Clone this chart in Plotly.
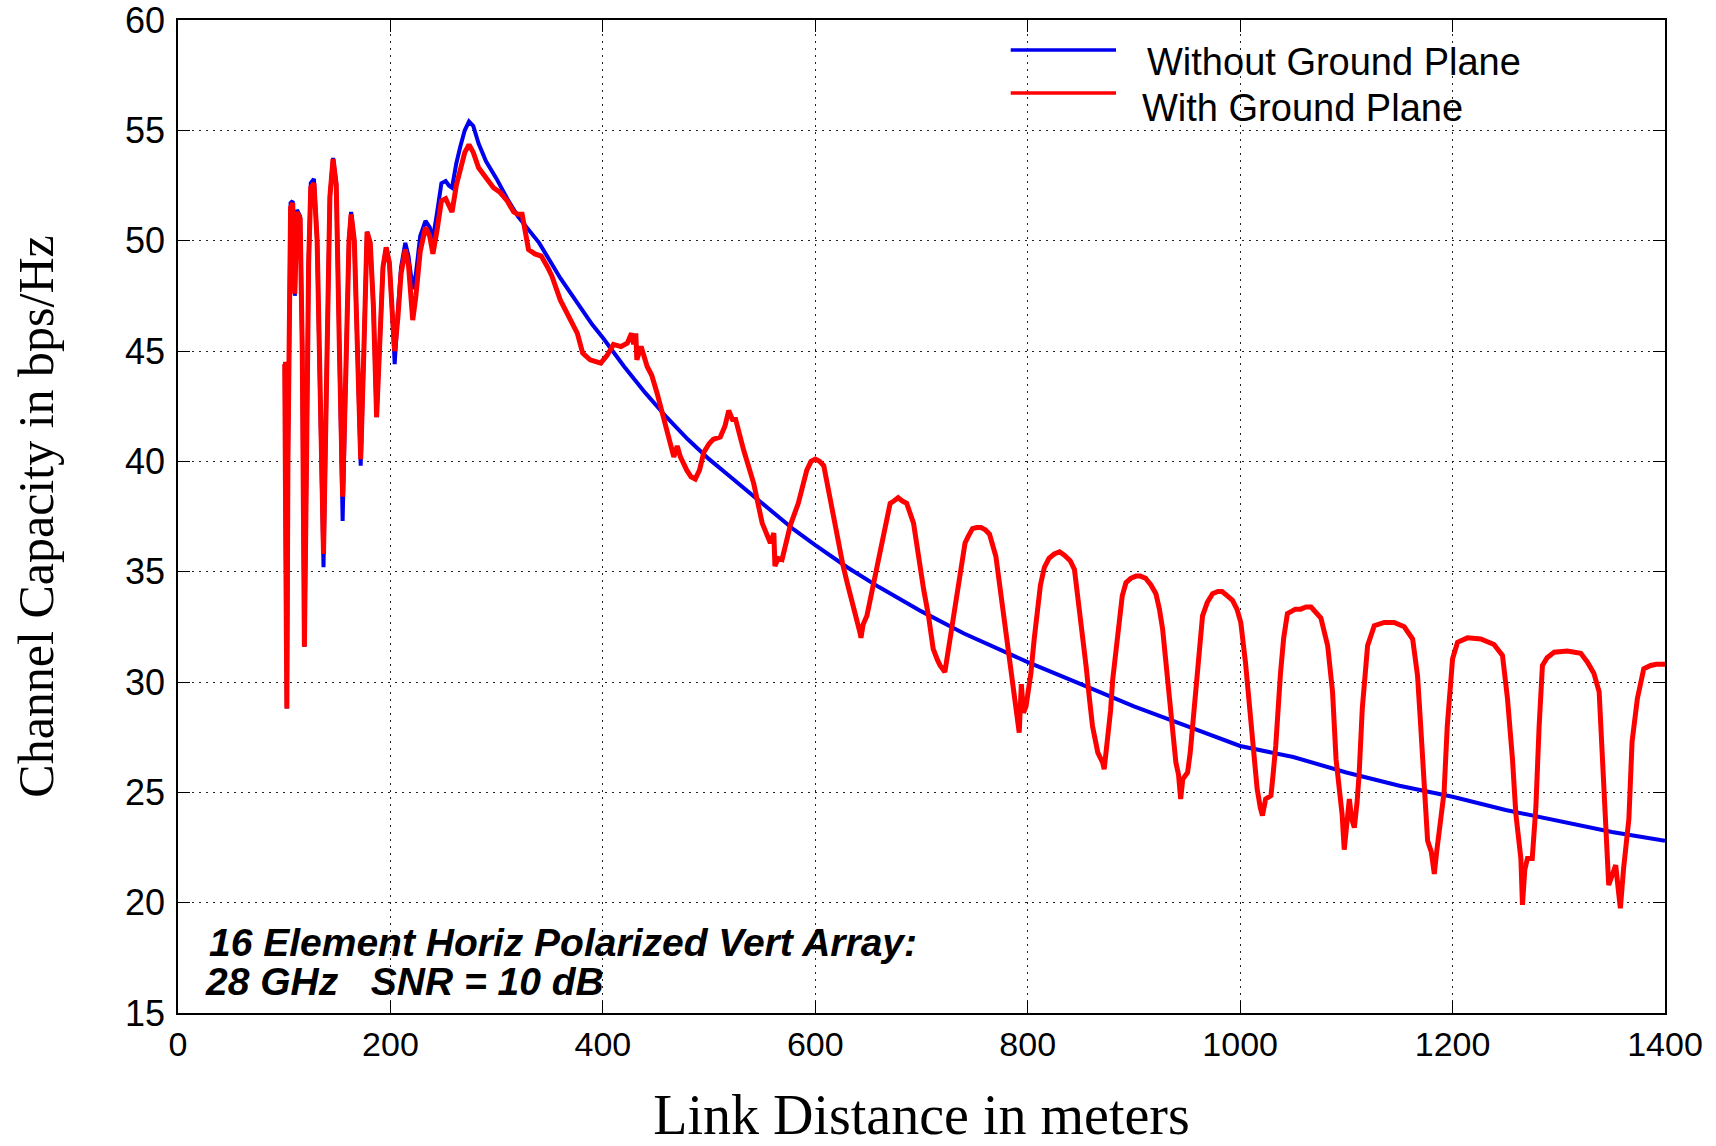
import plotly.graph_objects as go

# ---------------- data ----------------
blue_x = [99, 100.5, 101.5, 102.5, 103.5, 104.5, 106, 108, 110, 112, 115, 117, 119, 121, 123, 125,
          128, 131, 134, 137, 140, 143, 146, 149, 152, 155, 158, 161, 163, 166, 169, 172, 175,
          178, 181, 184, 187, 190, 193, 196, 199, 202, 204, 207, 210, 214, 217, 221, 224, 228,
          233, 237, 240, 244, 248, 252, 255, 258, 262, 266, 270, 274, 278, 283, 290, 300, 310,
          320, 330, 340, 350, 360, 370, 380, 390, 400, 420, 440, 460, 480, 500, 520, 540, 560,
          580, 600, 630, 660, 700, 740, 780, 800, 850, 900, 950, 1000, 1050, 1100, 1150, 1200,
          1250, 1300, 1350, 1400]
blue_y = [44.4, 44.4, 36.0, 28.8, 40.0, 44.4, 51.7, 51.8, 47.5, 51.4, 51.1, 45.0, 31.6, 40.0, 49.0, 52.6,
          52.8, 50.0, 42.0, 35.2, 44.0, 52.0, 53.75, 52.6, 45.0, 37.3, 44.0, 50.0, 51.3, 50.0, 45.0, 39.8, 45.0,
          50.4, 49.9, 47.0, 42.0, 45.0, 48.8, 49.7, 49.0, 46.5, 44.4, 46.8, 48.8, 49.9, 49.3, 47.8, 48.5, 50.2,
          50.9, 50.6, 50.1, 51.3, 52.6, 52.7, 52.5, 52.4, 53.5, 54.3, 55.0, 55.4, 55.2, 54.4, 53.6, 52.8, 51.9,
          51.1, 50.5, 49.9, 49.1, 48.3, 47.6, 46.9, 46.2, 45.6, 44.3, 43.1, 42.0, 41.0, 40.1, 39.3, 38.5, 37.7,
          36.9, 36.2, 35.2, 34.3, 33.2, 32.2, 31.3, 30.9, 29.9, 28.9, 28.0, 27.1, 26.6, 25.9, 25.3, 24.8,
          24.2, 23.7, 23.2, 22.8]

red_x = [99, 100.5, 101.5, 102.5, 103.5, 104.5, 106, 108, 110, 112, 115, 117, 119, 121, 123, 125,
         128, 131, 134, 137, 140, 143, 146, 149, 152, 155, 158, 161, 163, 166, 169, 172, 175,
         178, 181, 184, 187, 190, 193, 196, 199, 202, 204, 207, 210, 214, 217, 221, 224, 228,
         233, 237, 240, 244, 248, 252, 255, 258, 262, 266, 270, 274, 278, 283, 290, 297, 303,
         310, 316, 320, 324, 327, 330, 336, 342, 348, 352, 360, 368, 376, 381, 388, 398, 404,
         410, 417, 423, 427, 429, 431, 432, 436, 441.7, 446, 451, 456, 460.5, 466.8, 470, 473,
         479, 483, 487, 491, 495, 500, 504, 510.6, 515, 518.5, 522, 525, 532.6, 537, 542, 546,
         550, 557.7, 561, 562, 565, 568.7, 572, 576.5, 584, 588, 592, 596, 600, 604, 608, 614,
         618, 622, 626, 630, 634, 637.6, 642, 643, 645, 648.6, 652, 656.4, 660, 664, 670.5, 674,
         678, 682, 686, 692.5, 695, 698.7, 702, 706.6, 711, 715, 717.5, 722, 725, 728.5, 732,
         736.4, 741, 744, 748, 752, 756, 760, 764, 770, 776.5, 780, 783, 787.5, 790, 792, 794,
         796, 798.4, 803, 806, 809.4, 812, 815.7, 820, 825, 830, 834.5, 840, 844, 848.6, 852,
         855, 858, 861, 866, 870.5, 872, 875, 878, 880, 886, 889, 892.5, 897, 902, 906, 911,
         916, 920.7, 924, 927, 930, 933, 936, 939.5, 942, 944, 946, 950.5, 953, 955, 960, 964.6,
         969, 974, 979, 983, 988, 992.8, 997, 1000.6, 1005, 1008, 1011.6, 1016, 1019, 1021, 1024,
         1029, 1031, 1033.5, 1038, 1041, 1044.5, 1052, 1057, 1062, 1066.8, 1072, 1076, 1082.4,
         1087, 1090.3, 1093.4, 1096, 1098, 1100, 1102.8, 1105, 1107.5, 1110, 1112, 1115, 1120,
         1126.3, 1135.7, 1145, 1154.5, 1162.4, 1167, 1170, 1173.4, 1176.5, 1180, 1182.8, 1185,
         1187.5, 1192, 1195, 1200, 1204.7, 1214, 1226.6, 1239, 1247, 1251.7, 1256.4, 1259.6,
         1264.3, 1265.8, 1268, 1270.5, 1275, 1278.4, 1281.5, 1284.6, 1289, 1295.6, 1308, 1320.7,
         1327, 1333, 1338, 1341, 1344, 1347, 1350, 1353.6, 1356, 1358, 1361, 1366, 1369, 1374,
         1380, 1386.5, 1392, 1400]
red_y = [44.4, 44.4, 36.0, 28.8, 40.0, 44.4, 51.5, 51.7, 47.6, 51.3, 51.0, 45.0, 31.6, 40.0, 49.0, 52.4,
         52.6, 50.0, 42.0, 35.8, 44.0, 52.0, 53.7, 52.5, 45.0, 38.4, 44.0, 50.0, 51.2, 50.0, 45.0, 40.1, 45.0,
         50.4, 49.9, 47.0, 42.0, 45.0, 48.8, 49.7, 49.0, 46.5, 45.0, 46.5, 48.5, 49.6, 48.9, 46.4, 47.5, 49.5,
         50.6, 50.2, 49.4, 50.5, 51.8, 51.9, 51.6, 51.3, 52.5, 53.3, 54.0, 54.35, 54.0, 53.3, 52.8, 52.4, 52.2,
         51.8, 51.3, 51.2, 51.2, 50.5, 49.6, 49.4, 49.3, 48.8, 48.4, 47.3, 46.55, 45.8, 44.9, 44.6, 44.45, 44.8,
         45.3, 45.2, 45.35, 45.8, 45.3, 45.8, 44.6, 45.2, 44.3, 43.9, 43.1, 42.2, 41.4, 40.2, 40.7, 40.2,
         39.6, 39.3, 39.2, 39.6, 40.4, 40.8, 41.0, 41.1, 41.6, 42.3, 41.9, 41.9, 40.5, 39.8, 39.0, 38.1,
         37.2, 36.3, 36.75, 35.25, 35.6, 35.55, 36.3, 37.1, 38.1, 38.9, 39.6, 40.0, 40.1, 40.0, 39.8, 38.3,
         37.2, 36.3, 35.3, 34.5, 33.8, 33.15, 32.25, 32.0, 32.6, 33.0, 33.8, 34.65, 35.6, 36.5, 38.1, 38.2,
         38.35, 38.2, 38.1, 37.2, 36.3, 35.25, 34.2, 33.0, 31.5, 31.0, 30.75, 30.45, 31.4, 32.25, 33.4,
         34.65, 36.3, 36.6, 36.95, 37.0, 37.0, 36.9, 36.7, 35.7, 33.4, 32.2, 31.0, 29.4, 28.8, 27.7, 29.9,
         28.6, 28.9, 30.4, 31.9, 33.4, 34.4, 35.2, 35.6, 35.8, 35.9, 35.75, 35.5, 35.1, 33.4, 32.0,
         30.7, 29.3, 28.0, 26.8, 26.35, 26.05, 27.25, 28.7, 30.1, 33.0, 33.9, 34.5, 34.7, 34.8, 34.8, 34.7,
         34.4, 34.0, 33.3, 32.4, 31.0, 29.4, 27.8, 26.35, 25.8, 24.7, 25.6, 25.9, 26.8, 27.85, 30.7, 33.0,
         33.6, 34.0, 34.1, 34.1, 33.9, 33.7, 33.3, 32.7, 30.9, 29.4, 27.85, 25.15, 24.3, 23.95, 24.7,
         24.85, 25.8, 27.1, 30.4, 32.0, 33.1, 33.3, 33.3, 33.4, 33.4, 33.1, 32.9, 31.65,
         29.55, 26.5, 25.0, 24.0, 22.4, 23.6, 24.7, 23.8, 23.4, 24.5, 25.8, 28.8, 31.65,
         32.55, 32.7, 32.7, 32.5, 31.95, 30.3, 28.0, 25.0, 22.8, 22.3, 21.3, 22.3,
         23.2, 25.0, 28.0, 31.05, 31.8, 32.0, 31.95, 31.7, 31.2, 29.25, 26.5, 24.0,
         22.0, 19.9, 21.5, 22.0, 22.0, 24.3, 28.0, 30.75, 31.1, 31.35, 31.4, 31.3,
         30.9, 30.4, 29.55, 26.5, 23.5, 20.8, 21.2, 21.7, 20.6, 19.75, 21.55, 23.8, 27.3, 29.25,
         30.6, 30.75, 30.8, 30.8]

series_names = ["Without Ground Plane", "With Ground Plane"]
x_ticks = [0, 200, 400, 600, 800, 1000, 1200, 1400]
y_ticks = [15, 20, 25, 30, 35, 40, 45, 50, 55, 60]
note_lines = ["16 Element Horiz Polarized Vert Array:", "28 GHz   SNR = 10 dB"]
x_title = "Link Distance in meters"
y_title = "Channel Capacity in bps/Hz"

BLUE = "#0000ee"
RED = "#ff0000"

fig = go.Figure()
fig.add_trace(go.Scatter(x=blue_x, y=blue_y, mode="lines", name=series_names[0],
                         line=dict(color=BLUE, width=4), showlegend=False))
fig.add_trace(go.Scatter(x=red_x, y=red_y, mode="lines", name=series_names[1],
                         line=dict(color=RED, width=5), showlegend=False))

axis_common = dict(
    showline=True, linecolor="black", linewidth=1.5, mirror="ticks",
    ticks="inside", ticklen=12, tickwidth=1.2, tickcolor="black",
    showgrid=True, gridcolor="#222222", gridwidth=1, griddash="2px,5px",
    zeroline=False, automargin=False, ticklabeloverflow="allow",
)

fig.update_xaxes(range=[0, 1400], tickvals=x_ticks, ticktext=[str(v) for v in x_ticks],
                 tickfont=dict(family="Liberation Sans, Arial, sans-serif", size=34, color="black"),
                 title=dict(text=x_title, standoff=41,
                            font=dict(family="Liberation Serif, Times New Roman, serif", size=56, color="black")),
                 **axis_common)
fig.update_yaxes(range=[15, 60], tickvals=y_ticks, ticktext=[str(v) for v in y_ticks],
                 tickfont=dict(family="Liberation Sans, Arial, sans-serif", size=36, color="black"),
                 ticklabelstandoff=4,
                 title=dict(text=y_title, standoff=56,
                            font=dict(family="Liberation Serif, Times New Roman, serif", size=50, color="black")),
                 **axis_common)

# manual legend (paper coordinates)
leg_rows = [(0.9698, 0.9577, BLUE, 0.6503), (0.9265, 0.9110, RED, 0.6470)]
for (ly, ty, col, tx), name in zip(leg_rows, series_names):
    fig.add_shape(type="line", xref="paper", yref="paper", x0=0.560, x1=0.6308, y0=ly, y1=ly,
                  line=dict(color=col, width=3.5))
    fig.add_annotation(xref="paper", yref="paper", x=tx, y=ty, text=name, showarrow=False,
                       xanchor="left", yanchor="middle",
                       font=dict(family="Liberation Sans, Arial, sans-serif", size=38, color="black"))

# note text
fig.add_annotation(xref="paper", yref="paper", x=(207 - 178) / 1487, y=(1013 - 942) / 993,
                   text="<b><i>" + note_lines[0] + "</i></b>", showarrow=False,
                   xanchor="left", yanchor="middle",
                   font=dict(family="Liberation Sans, Arial, sans-serif", size=39, color="black"))
fig.add_annotation(xref="paper", yref="paper", x=(203 - 178) / 1487, y=(1013 - 981) / 993,
                   text="<b><i>" + note_lines[1].replace(" ", "&nbsp;") + "</i></b>", showarrow=False,
                   xanchor="left", yanchor="middle",
                   font=dict(family="Liberation Sans, Arial, sans-serif", size=39, color="black"))

fig.update_layout(
    width=1716, height=1146,
    margin=dict(l=178, r=51, t=20, b=133),
    paper_bgcolor="white", plot_bgcolor="white",
    showlegend=False,
)

# remove the default 8px page margin so the figure fills the window exactly
fig.write_html("out.html", config={"displayModeBar": False},
               post_script="document.body.style.margin='0';")
